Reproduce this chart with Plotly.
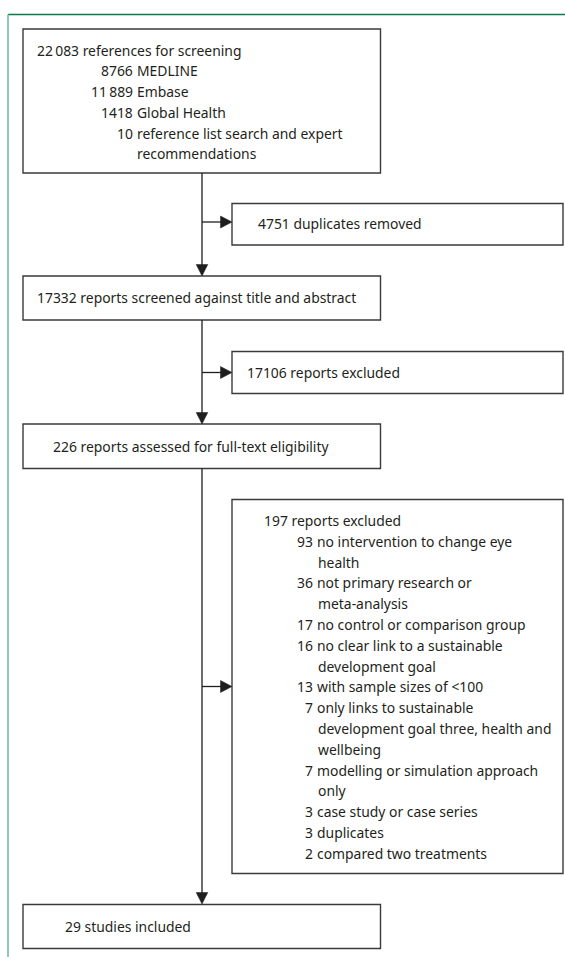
import plotly.graph_objects as go

# ---------------- data ----------------
total_refs = "22\u2009083"
source_counts = ["8766", "11\u2009889", "1418", "10"]
source_labels = ["MEDLINE", "Embase", "Global Health", "reference list search and expert"]
source_cont = "recommendations"

dup_count = "4751"
screened_count = "17332"
excl1_count = "17106"
fulltext_count = "226"
excl2_count = "197"
excl_reason_counts = ["93", "36", "17", "16", "13", "7", "7", "3", "3", "2"]
excl_reason_lines = [
    ["no intervention to change eye", "health"],
    ["not primary research or", "meta-analysis"],
    ["no control or comparison group"],
    ["no clear link to a sustainable", "development goal"],
    ["with sample sizes of <100"],
    ["only links to sustainable", "development goal three, health and", "wellbeing"],
    ["modelling or simulation approach", "only"],
    ["case study or case series"],
    ["duplicates"],
    ["compared two treatments"],
]
included_count = "29"

# ---------------- layout / style ----------------
W, H = 565, 957
FONT = "Noto Sans"
FS = 13.9
TXT = "#231f20"
BOX = "#3a3a3a"
LINE = "#1e1e1e"

shapes = []
ann = []


def rect(x0, y0, x1, y1):
    shapes.append(dict(type="rect", xref="x", yref="y", x0=x0, y0=y0, x1=x1, y1=y1,
                       line=dict(color=BOX, width=1.4), fillcolor="rgba(0,0,0,0)"))


def seg(x0, y0, x1, y1, color=LINE, width=1.3):
    shapes.append(dict(type="line", xref="x", yref="y", x0=x0, y0=y0, x1=x1, y1=y1,
                       line=dict(color=color, width=width)))


def tri(pts):
    p = "M " + " L ".join(f"{x},{y}" for x, y in pts) + " Z"
    shapes.append(dict(type="path", xref="x", yref="y", path=p,
                       line=dict(color=LINE, width=0.5), fillcolor=LINE))


def down_arrow(x, tip):
    tri([(x - 5.8, tip - 11.5), (x + 5.8, tip - 11.5), (x, tip)])


def right_arrow(y, tip):
    tri([(tip - 11.5, y - 6), (tip - 11.5, y + 6), (tip, y)])


def text(x, y, s, anchor="left"):
    ann.append(dict(x=x, y=y, xref="x", yref="y", text=s, showarrow=False,
                    xanchor=anchor, yanchor="middle", borderpad=0, borderwidth=0,
                    font=dict(family=FONT, size=FS, color=TXT)))


# green frame
seg(8, 14.5, W, 14.5, color="#0b7a4b", width=1.6)
seg(8, 14.5, 8, H, color="#6fc0a0", width=1.6)

LX0, LX1 = 23, 380.5
RX0, RX1 = 232, 563
VX = 202
STEP = 20.8

# box 1
rect(LX0, 29, LX1, 173)
text(36.7, 50, f"{total_refs} references for screening")
ys = [70.7, 91.5, 112.3, 133.1]
for y, c, l in zip(ys, source_counts, source_labels):
    text(133, y, c, "right")
    text(137, y, l)
text(137, 153.9, source_cont)

# duplicates
rect(RX0, 203.5, RX1, 245)
text(257.5, 223.5, f"{dup_count} duplicates removed")

# screened
rect(LX0, 276, LX1, 320)
text(36.7, 297.5, f"{screened_count} reports screened against title and abstract")

# excluded 1
rect(RX0, 351.5, RX1, 393.5)
text(246.5, 372.5, f"{excl1_count} reports excluded")

# full text
rect(LX0, 424, LX1, 468.5)
text(53, 446, f"{fulltext_count} reports assessed for full-text eligibility")

# excluded 2
rect(RX0, 499.5, RX1, 873.5)
text(264, 520.5, f"{excl2_count} reports excluded")
y = 520.5 + STEP
for c, lines in zip(excl_reason_counts, excl_reason_lines):
    text(313.3, y, c, "right")
    for i, l in enumerate(lines):
        text(317 + (0.5 if i else 0), y, l)
        y += STEP

# included
rect(LX0, 904.5, LX1, 948.5)
text(65, 926, f"{included_count} studies included")

# connectors
seg(VX, 173, VX, 266)
down_arrow(VX, 276)
seg(VX, 222, 222, 222)
right_arrow(222, 232)

seg(VX, 320, VX, 414)
down_arrow(VX, 424)
seg(VX, 372.5, 222, 372.5)
right_arrow(372.5, 232)

seg(VX, 468.5, VX, 894)
down_arrow(VX, 904)
seg(VX, 686.5, 222, 686.5)
right_arrow(686.5, 232)

fig = go.Figure()
fig.update_layout(
    width=W, height=H,
    margin=dict(l=0, r=0, t=0, b=0),
    paper_bgcolor="white", plot_bgcolor="white",
    xaxis=dict(range=[0, W], visible=False, fixedrange=True),
    yaxis=dict(range=[H, 0], visible=False, fixedrange=True),
    shapes=shapes, annotations=ann, showlegend=False,
)
fig.write_html("out.html", config={"displayModeBar": False},
               post_script="document.body.style.margin='0px';document.body.style.overflow='hidden';")
